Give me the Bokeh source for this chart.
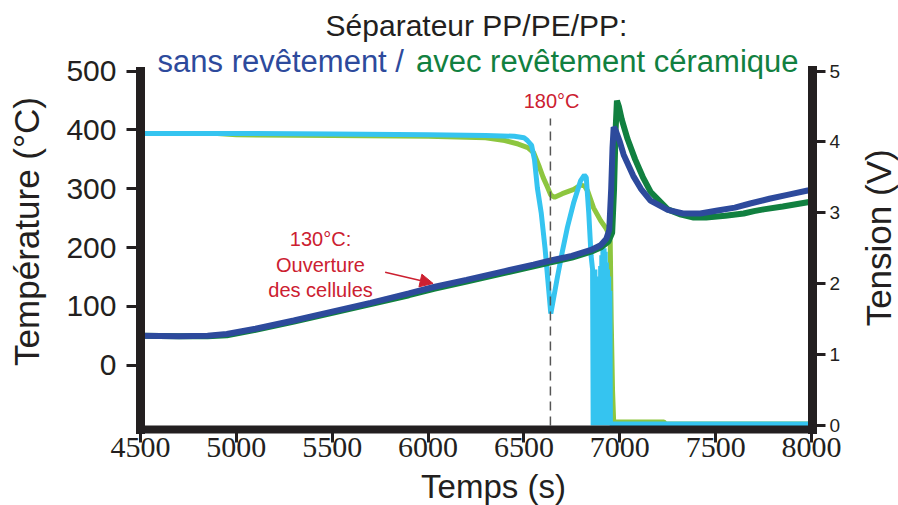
import math
from bokeh.plotting import figure
from bokeh.layouts import row, column
from bokeh.models import Range1d, LinearAxis, FixedTicker, Label, Arrow, NormalHead
from bokeh.embed import file_html
from bokeh.resources import INLINE

# ---------------- data ----------------
# Temperature, separator without coating (dark blue)
t_temp_sans = [4500, 4700, 4850, 4950, 5100, 5300, 5500, 5700, 5900, 6030, 6200, 6400,
               6550, 6640, 6750, 6850, 6900, 6930, 6945, 6955, 6962, 6968, 6980, 7000,
               7020, 7070, 7110, 7160, 7250, 7330, 7420, 7510, 7600, 7680, 7780, 7880,
               7980, 8000]
temp_sans = [50, 49, 50, 53, 62, 76, 91, 106, 122, 133, 145, 160,
             171, 178, 186, 196, 204, 215, 230, 300, 370, 405, 398, 380,
             358, 322, 300, 280, 264, 258, 258, 263, 268, 275, 283, 290,
             297, 298]

# Temperature, separator with ceramic coating (dark green)
t_temp_cer = [4500, 4700, 4850, 4950, 5100, 5300, 5500, 5700, 5900, 6030, 6200, 6400,
              6550, 6640, 6750, 6850, 6900, 6940, 6960, 6970, 6978, 6985, 6995, 7010,
              7040, 7080, 7120, 7160, 7250, 7320, 7385, 7450, 7550, 7646, 7700, 7750,
              7850, 7980, 8000]
temp_cer = [50, 49, 49, 51, 60, 74, 89, 104, 119, 130, 142, 157,
            168, 175, 183, 193, 200, 210, 225, 300, 400, 450, 440, 418,
            385, 350, 320, 295, 265, 256, 251, 251, 254, 258, 262, 265,
            270, 277, 278]

# Voltage, separator without coating (light blue)
t_volt_sans = [4500, 5000, 5500, 6000, 6300, 6450, 6500, 6518, 6540, 6555, 6570, 6590,
               6610, 6628, 6640, 6655, 6675, 6700, 6727, 6760, 6795, 6815, 6825, 6838,
               6850, 6858, 6861, 6864, 6867, 6870, 6873, 6876, 6879, 6882, 6885, 6888,
               6891, 6894, 6897, 6900, 6903, 6906, 6909, 6912, 6915, 6918, 6921, 6924,
               6927, 6930, 6933, 6936, 6939, 6942, 6945, 6948, 6951, 6954, 8000]
volt_sans = [4.12, 4.12, 4.11, 4.10, 4.09, 4.08, 4.06, 4.02, 3.95, 3.75, 3.35, 3.00,
             2.50, 1.95, 1.58, 1.80, 2.10, 2.45, 2.80, 3.15, 3.45, 3.53, 3.50, 3.00,
             2.40, 2.20, 0.00, 2.15, 0.00, 2.20, 0.00, 2.10, 0.00, 1.95, 0.00, 2.00,
             0.00, 2.10, 0.00, 2.25, 0.00, 2.40, 0.00, 2.50, 0.00, 2.50, 0.00, 2.45,
             0.00, 2.30, 0.00, 2.20, 0.00, 2.10, 0.00, 1.90, 0.02, 0.02, 0.02]

# Voltage, separator with ceramic coating (light green)
t_volt_cer = [4500, 4900, 5000, 5500, 6000, 6300, 6400, 6470, 6520, 6550, 6580, 6600,
              6623, 6640, 6660, 6700, 6760, 6795, 6815, 6832, 6863, 6900, 6926, 6941,
              6950, 6955, 6962, 6968, 7230, 7240, 8000]
volt_cer = [4.12, 4.12, 4.10, 4.09, 4.08, 4.06, 4.02, 3.97, 3.92, 3.85, 3.65, 3.50,
            3.36, 3.25, 3.22, 3.27, 3.33, 3.39, 3.38, 3.31, 3.07, 2.89, 2.79, 2.71,
            2.60, 1.50, 0.50, 0.05, 0.05, 0.02, 0.02]

temp_ticks = [0, 100, 200, 300, 400, 500]
volt_ticks = [0, 1, 2, 3, 4, 5]
time_ticks = [4500, 5000, 5500, 6000, 6500, 7000, 7500, 8000]

marker_time = 6638          # 180 °C marker
marker_temp_span = [-102.5, 419.6]
open_arrow_start = (5776, 158)
open_arrow_end = (6026, 139)

# ---------------- styling ----------------
FONT = "Liberation Sans"
BLACK = "#231F20"
DBLUE = "#2D4A9C"
DGREEN = "#118040"
LBLUE = "#35C4F0"
LGREEN = "#8DC63F"
RED = "#CC2030"

MAIN_W, MAIN_H = 860, 467
SIDE_W = 898 - MAIN_W
FOOT_H = 505 - MAIN_H

# main figure: frame left 140, right 812, top 33, bottom 429
p = figure(width=MAIN_W, height=MAIN_H, output_backend="svg", toolbar_location=None,
           x_range=Range1d(4500, 8005), y_range=Range1d(-109.4, 564.1),
           min_border_left=140, min_border_right=MAIN_W - 812, min_border_top=33,
           min_border_bottom=MAIN_H - 429)
p.extra_y_ranges = {"volt": Range1d(-0.056, 5.529)}
p.outline_line_color = None
p.xgrid.visible = False
p.ygrid.visible = False
p.background_fill_color = "white"
p.border_fill_color = "white"

p.title.text = "Séparateur PP/PE/PP:"
p.title.align = "center"
p.title.text_font = FONT
p.title.text_font_size = "30px"
p.title.text_font_style = "normal"
p.title.text_color = BLACK
p.title.standoff = -16

def style_axis(ax, size, width=9, font=FONT):
    ax.axis_line_color = BLACK
    ax.axis_line_width = width
    ax.axis_line_cap = "square"
    ax.major_tick_line_color = BLACK
    ax.major_tick_line_width = 3
    ax.major_tick_out = 13
    ax.major_tick_in = 0
    ax.minor_tick_line_color = None
    ax.major_label_text_font = font
    ax.major_label_text_font_size = size
    ax.major_label_text_color = BLACK
    ax.axis_label_text_font = FONT
    ax.axis_label_text_font_size = "35px"
    ax.axis_label_text_font_style = "normal"
    ax.axis_label_text_color = BLACK

xax = p.xaxis[0]
xax.ticker = FixedTicker(ticks=time_ticks)
style_axis(xax, "30px", 8, "Liberation Sans Narrow")
xax.major_label_text_line_height = 1.0
xax.major_label_standoff = -5

yax = p.yaxis[0]
yax.ticker = FixedTicker(ticks=temp_ticks)
style_axis(yax, "30px")
yax.major_tick_out = 14
yax.major_label_standoff = 10
yax.bounds = (-109.4, 500.3)
yax.axis_label = "Température (°C)"
yax.axis_label_standoff = 17

rax = LinearAxis(y_range_name="volt", ticker=FixedTicker(ticks=volt_ticks))
style_axis(rax, "19px")
rax.major_label_standoff = 4
rax.bounds = (-0.056, 5.003)
p.add_layout(rax, "right")

# ---------------- curves ----------------
p.line(t_volt_cer, volt_cer, y_range_name="volt", line_color=LGREEN, line_width=5)
p.line(t_volt_sans, volt_sans, y_range_name="volt", line_color=LBLUE, line_width=5)
p.line(t_temp_cer, temp_cer, line_color=DGREEN, line_width=6)
p.line(t_temp_sans, temp_sans, line_color=DBLUE, line_width=6)

# dashed 180 °C marker
p.line([marker_time, marker_time], marker_temp_span, line_color="#555555",
       line_width=1.5, line_dash="9 6")

# ---------------- annotations ----------------
p.add_layout(Label(x=6644, y=448.5, text="180°C", text_align="center",
                   text_baseline="alphabetic", text_font=FONT,
                   text_font_size="20px", text_color=RED))
for txt, yy in [("130°C:", 213.8), ("Ouverture", 170.1), ("des cellules", 127.5)]:
    p.add_layout(Label(x=5439, y=yy, text=txt, text_align="center",
                       text_baseline="alphabetic", text_font=FONT,
                       text_font_size="20px", text_color=RED))
p.add_layout(Arrow(end=NormalHead(size=13, fill_color=RED, line_color=RED),
                   x_start=open_arrow_start[0], y_start=open_arrow_start[1],
                   x_end=open_arrow_end[0], y_end=open_arrow_end[1],
                   line_color=RED, line_width=1.5))

# coloured second title line (inside the frame area, above the curves)
p.add_layout(Label(x=4589, y=516.2, text="sans revêtement /", text_align="left",
                   text_baseline="alphabetic", text_font=FONT,
                   text_font_size="31px", text_color=DBLUE))
p.add_layout(Label(x=7932, y=516.2, text="avec revêtement céramique", text_align="right",
                   text_baseline="alphabetic", text_font=FONT,
                   text_font_size="31px", text_color=DGREEN))

def blank_fig(w, h):
    f = figure(width=w, height=h, output_backend="svg", toolbar_location=None,
               x_range=Range1d(0, w), y_range=Range1d(0, h),
               min_border=0, x_axis_location=None, y_axis_location=None)
    f.outline_line_color = None
    f.xgrid.visible = False
    f.ygrid.visible = False
    f.background_fill_color = "white"
    f.border_fill_color = "white"
    return f

# right-hand axis title (reads bottom to top, as in the reference)
p2 = blank_fig(SIDE_W, MAIN_H)
p2.add_layout(Label(x=17.5, y=MAIN_H - 241, text="Tension (V)", angle=math.pi / 2,
                    text_align="center", text_baseline="alphabetic", text_font=FONT,
                    text_font_size="35px", text_color=BLACK))

# x axis title
p3 = blank_fig(898, FOOT_H)
p3.add_layout(Label(x=493, y=19, text="Temps (s)", text_align="center",
                    text_baseline="alphabetic", text_font=FONT,
                    text_font_size="33px", text_color=BLACK))

layout = column(row(p, p2, spacing=0), p3, spacing=0)
open("out.html", "w").write(file_html(layout, INLINE))
